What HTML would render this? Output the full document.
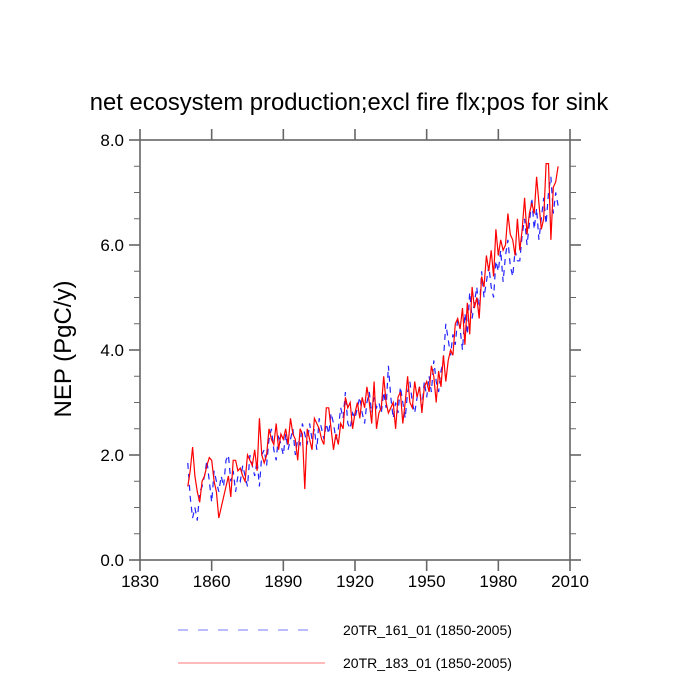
<!DOCTYPE html>
<html><head><meta charset="utf-8"><style>
html,body{margin:0;padding:0;background:#fff;}
svg{display:block;font-family:"Liberation Sans",sans-serif;}
</style></head><body>
<svg id="chart" width="700" height="700" viewBox="0 0 700 700">
<rect width="700" height="700" fill="#fff"/>
<text x="349" y="110" font-size="23.8" text-anchor="middle">net ecosystem production;excl fire flx;pos for sink</text>
<text transform="translate(71,349) rotate(-90)" font-size="24" text-anchor="middle">NEP  (PgC/y)</text>
<g id="axes"></g>
<g id="series"></g>
<g>
<line x1="178" y1="630" x2="316" y2="630" stroke="#7777ff" stroke-width="1" stroke-dasharray="10,10"/>
<text x="343" y="635" font-size="14">20TR_161_01 (1850-2005)</text>
<line x1="178" y1="663" x2="325" y2="663" stroke="#ff7777" stroke-width="1"/>
<text x="343" y="668" font-size="14">20TR_183_01 (1850-2005)</text>
</g>
</svg>
<script>
const startYear = 1850;
const xTicks = [1830, 1860, 1890, 1920, 1950, 1980, 2010];
const yTicks = [0, 2, 4, 6, 8];
const yTickLabels = ["0.0", "2.0", "4.0", "6.0", "8.0"];
const redValues = [
1.4,1.7,2.15,1.6,1.3,1.1,1.5,1.6,1.8,1.95,
1.9,1.5,1.3,0.8,1.0,1.2,1.4,1.6,1.2,1.9,
1.9,1.7,1.75,1.6,1.5,2.0,1.9,1.8,2.1,1.7,
2.7,2.0,1.85,2.0,2.5,2.3,2.2,2.6,2.1,2.4,
2.3,2.5,2.2,2.7,2.4,2.3,1.9,2.5,2.4,1.35,
2.5,2.3,2.1,2.7,2.6,2.5,2.3,2.2,2.9,2.9,
2.5,2.1,2.4,2.2,2.6,2.5,3.1,2.9,3.0,2.5,
2.8,3.0,2.7,3.1,2.9,3.3,3.0,2.6,3.4,2.5,
2.8,2.9,3.5,3.0,2.8,2.9,3.0,2.5,3.1,3.2,
2.6,3.0,3.5,3.0,2.9,3.4,3.1,3.3,2.8,3.3,
3.4,3.2,3.7,3.5,3.0,3.6,3.3,3.9,3.4,3.8,
4.0,3.9,4.5,4.6,4.4,4.8,4.1,4.9,4.3,5.2,
4.8,5.0,4.6,5.4,5.2,5.8,5.5,5.9,5.4,6.3,
5.8,6.1,5.9,6.0,6.6,6.2,6.1,5.8,6.5,5.9,
6.3,6.9,6.2,6.6,6.8,6.6,7.3,6.8,6.3,6.5,
7.55,7.55,6.1,7.1,7.2,7.5];
const blueValues = [
1.85,1.2,0.8,1.0,0.75,1.3,1.4,1.6,1.9,1.5,
1.1,1.7,1.5,1.3,1.6,1.4,1.9,2.0,1.5,1.7,
1.3,1.6,1.5,1.8,1.6,1.4,2.0,1.8,1.6,1.9,
1.4,2.0,2.1,1.8,2.3,2.5,2.1,1.9,2.4,2.2,
2.0,2.4,2.1,2.3,2.5,2.0,2.3,2.2,2.6,2.4,
2.2,2.6,2.3,2.5,2.1,2.7,2.5,2.3,2.6,2.4,
2.8,2.6,2.3,2.5,2.9,2.7,3.2,2.6,2.5,2.8,
2.7,2.9,3.1,2.8,2.6,3.0,3.2,2.8,3.1,2.9,
3.0,2.8,3.2,2.9,3.7,3.1,2.7,3.0,2.8,3.3,
3.0,2.7,3.2,3.4,3.0,2.8,3.1,3.3,2.9,3.4,
3.1,3.5,3.2,3.8,3.4,3.2,3.6,3.8,4.5,4.2,
3.9,4.3,4.1,4.6,4.4,4.0,4.7,4.3,5.1,4.6,
4.9,5.2,4.7,5.5,5.0,5.3,5.6,5.2,5.0,5.7,
5.5,5.9,5.3,5.8,6.1,5.6,5.4,5.9,5.7,5.7,
6.2,6.5,6.0,6.4,6.9,6.3,6.7,6.1,6.5,6.9,
6.4,7.0,7.3,6.6,7.0,6.75];

const X0=140, X1=570, Y0=560, Y1=140;
function xScale(yr){return X0+(yr-1830)/(2010-1830)*(X1-X0);}
function yScale(v){return Y0-(v-0)/(8-0)*(Y0-Y1);}
const NS="http://www.w3.org/2000/svg";
const axes=document.getElementById('axes');
const series=document.getElementById('series');
const AX='#666';
function mk(tag,attrs,parent){const e=document.createElementNS(NS,tag);for(const k in attrs)e.setAttribute(k,attrs[k]);parent.appendChild(e);return e;}

const frame=mk('rect',{x:X0,y:Y1,width:X1-X0,height:Y0-Y1,fill:'none',stroke:AX,'stroke-width':1.6},axes);



xTicks.forEach((t,i)=>{
  const x=xScale(t);
  mk('line',{x1:x,y1:Y0,x2:x,y2:Y0+11,stroke:AX,'stroke-width':1.6},axes);
  mk('line',{x1:x,y1:Y1,x2:x,y2:Y1-11,stroke:AX,'stroke-width':1.6},axes);
  const lb=mk('text',{x:x,y:Y0+27,'font-size':17,'text-anchor':'middle'},axes);
  lb.textContent=t;
  
  
});
yTicks.forEach((t,i)=>{
  const y=yScale(t);
  mk('line',{x1:X0,y1:y,x2:X0-11,y2:y,stroke:AX,'stroke-width':1.6},axes);
  mk('line',{x1:X1,y1:y,x2:X1+11,y2:y,stroke:AX,'stroke-width':1.6},axes);
  if(i<yTicks.length-1){for(let m=1;m<4;m++){const ym=yScale(t+m*0.5);
    mk('line',{x1:X0,y1:ym,x2:X0-6,y2:ym,stroke:AX,'stroke-width':1},axes);
    mk('line',{x1:X1,y1:ym,x2:X1+6,y2:ym,stroke:AX,'stroke-width':1},axes);}}
  const lb=mk('text',{x:X0-16,y:y+6,'font-size':17,'text-anchor':'end'},axes);
  lb.textContent=yTickLabels[i];
  
  
});

function pts(vals){return vals.map((v,i)=>xScale(startYear+i).toFixed(1)+','+yScale(v).toFixed(1)).join(' ');}
const blue=mk('polyline',{points:pts(blueValues),fill:'none',stroke:'#2222ff','stroke-width':1.2,'stroke-dasharray':'6,5'},series);


const red=mk('polyline',{points:pts(redValues),fill:'none',stroke:'#ff0000','stroke-width':1.2},series);


</script>
</body></html>
